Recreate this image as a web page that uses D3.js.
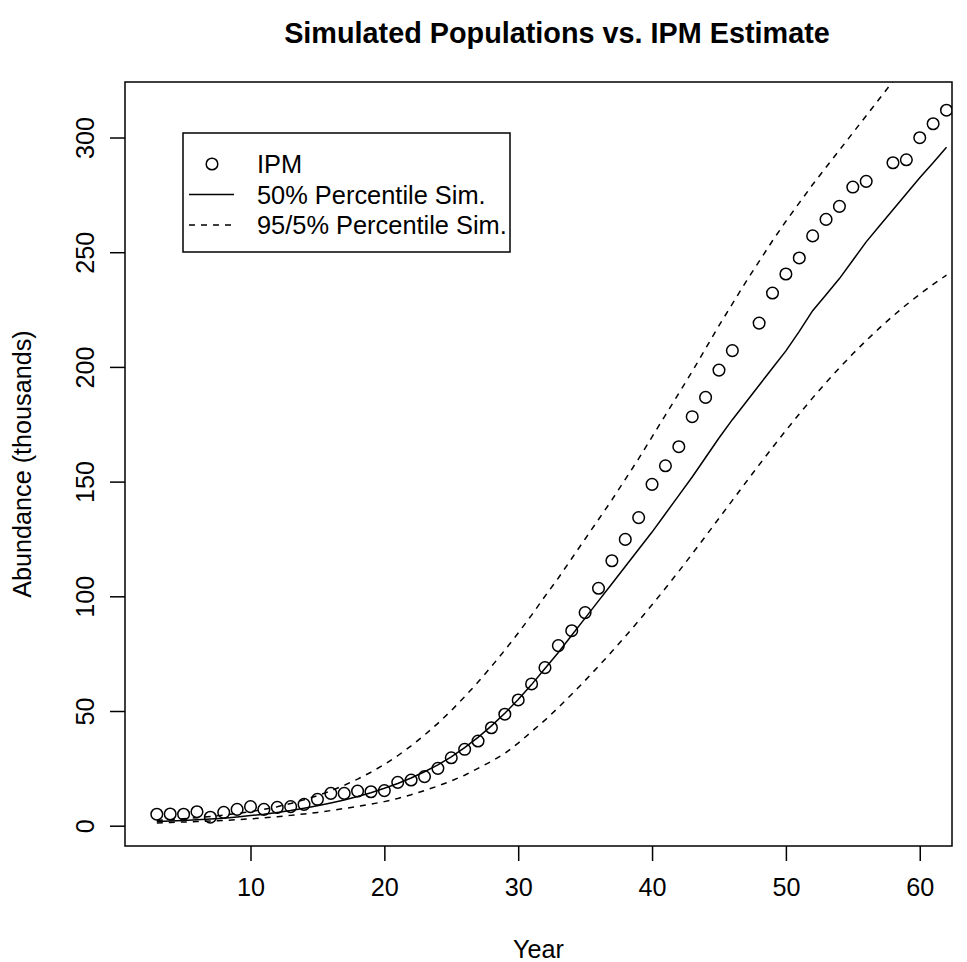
<!DOCTYPE html>
<html>
<head>
<meta charset="utf-8">
<script src="https://cdn.jsdelivr.net/npm/d3@7"></script>
<style>
  html, body { margin: 0; padding: 0; background: #fff; }
  svg { display: block; }
  text { font-family: "Liberation Sans", Arial, Helvetica, sans-serif; fill: #000; }
</style>
</head>
<body>
<svg id="chart" width="967" height="962"></svg>
<script>
// ---- data ----
const years = d3.range(3, 63); // 3..62

const ipmValues = [
  5.0, 5.1, 5.0, 6.1, 3.7, 5.8, 7.1, 8.3, 7.1, 8.0,          // 3-12
  8.3, 9.3, 11.5, 14.1, 14.1, 15.1, 14.8, 15.3, 18.9, 19.9,  // 13-22
  21.4, 25.0, 29.6, 33.3, 36.9, 42.7, 48.6, 54.8, 61.8, 68.9, // 23-32
  78.5, 85.0, 92.9, 103.5, 115.5, 124.8, 134.3, 148.8, 156.9, 165.2, // 33-42
  178.3, 186.7, 198.6, 207.1, null, 219.1, 232.2, 240.5, 247.5, 257.1, // 43-52
  264.3, 270.0, 278.4, 280.9, null, 289.0, 290.3, 299.9, 306.0, 311.9  // 53-62
];

const median = [
  1.8, 2.0, 2.3, 2.6, 2.9, 3.3, 3.8, 4.4, 5.0, 5.8,
  6.6, 7.6, 8.7, 9.9, 11.2, 12.7, 14.4, 16.3, 18.4, 20.8,
  23.5, 26.5, 30.0, 34.0, 38.5, 43.5, 49.0, 55.0, 61.5, 68.5,
  75.5, 83.0, 90.5, 98.0, 105.5, 113.0, 120.5, 128.0, 136.0, 144.0,
  152.0, 160.5, 169.0, 177.0, 184.5, 192.0, 199.5, 207.0, 215.5, 224.5,
  231.5, 238.5, 246.5, 254.5, 261.5, 268.5, 275.5, 282.5, 289.0, 295.8
];

const upper95 = [
  2.3, 2.6, 3.0, 3.5, 4.0, 4.6, 5.3, 6.1, 7.1, 8.3,
  9.7, 11.3, 13.1, 15.2, 17.6, 20.3, 23.3, 26.7, 30.5, 34.8,
  39.5, 44.6, 50.2, 56.2, 62.6, 69.4, 76.5, 84.0, 91.8, 100.0,
  108.0, 116.5, 125.0, 133.5, 142.0, 151.0, 160.0, 169.5, 179.0, 188.5,
  198.0, 208.0, 218.0, 227.5, 237.0, 246.0, 255.0, 263.5, 271.5, 279.5,
  287.0, 294.5, 302.0, 309.5, 317.0, 324.5, 332.0, 339.5, 347.0, 354.5
];

const lower5 = [
  1.2, 1.4, 1.6, 1.8, 2.0, 2.3, 2.6, 3.0, 3.4, 3.9,
  4.5, 5.1, 5.8, 6.6, 7.5, 8.4, 9.4, 10.5, 11.9, 13.5,
  15.3, 17.3, 19.5, 22.0, 25.0, 28.0, 31.5, 36.0, 41.0, 46.0,
  51.5, 57.3, 63.3, 69.5, 75.9, 82.5, 89.3, 96.3, 103.5, 110.9,
  118.5, 126.2, 134.0, 141.8, 149.6, 157.3, 164.9, 172.3, 179.5, 186.5,
  193.2, 199.6, 205.7, 211.5, 217.0, 222.2, 227.1, 231.7, 236.0, 240.0
];

const xTicks = [10, 20, 30, 40, 50, 60];
const yTicks = [0, 50, 100, 150, 200, 250, 300];

const titleText = "Simulated Populations vs. IPM Estimate";
const xLabel = "Year";
const yLabel = "Abundance (thousands)";
const legendLabels = ["IPM", "50% Percentile Sim.", "95/5% Percentile Sim."];

// ---- layout ----
const plot = { left: 125, right: 952, top: 82, bottom: 846 };
const svg = d3.select("#chart");

const x = d3.scaleLinear().domain([0.623, 62.41]).range([plot.left, plot.right]);
const y = d3.scaleLinear().domain([-8.85, 324.2]).range([plot.bottom, plot.top]);

const fontSize = 25.2;

svg.append("defs").append("clipPath").attr("id", "plotclip")
  .append("rect")
  .attr("x", plot.left).attr("y", plot.top)
  .attr("width", plot.right - plot.left).attr("height", plot.bottom - plot.top);

// Axes
const xAxis = d3.axisBottom(x).tickValues(xTicks).tickSize(15).tickSizeOuter(0).tickPadding(0);
const gx = svg.append("g").attr("transform", `translate(0,${plot.bottom})`).call(xAxis);
gx.select(".domain").remove();
gx.selectAll(".tick line").attr("stroke", "#000").attr("stroke-width", 1.5);
gx.selectAll(".tick text")
  .attr("y", 50).attr("dy", null)
  .style("font-size", fontSize + "px")
  .attr("fill", "#000");

const yAxis = d3.axisLeft(y).tickValues(yTicks).tickSize(15).tickSizeOuter(0);
const gy = svg.append("g").attr("transform", `translate(${plot.left},0)`).call(yAxis);
gy.select(".domain").remove();
gy.selectAll(".tick line").attr("stroke", "#000").attr("stroke-width", 1.5);
gy.selectAll(".tick text")
  .attr("x", null).attr("dy", null)
  .attr("transform", "translate(-31,0) rotate(-90)")
  .attr("text-anchor", "middle")
  .attr("y", 0)
  .style("font-size", fontSize + "px")
  .attr("fill", "#000");

// Lines
const g = svg.append("g").attr("clip-path", "url(#plotclip)");
const line = d3.line().x((d, i) => x(years[i])).y(d => y(d));

g.append("path").datum(median).attr("d", line)
  .attr("fill", "none").attr("stroke", "#000").attr("stroke-width", 1.5);
g.append("path").datum(upper95).attr("d", line)
  .attr("fill", "none").attr("stroke", "#000").attr("stroke-width", 1.5)
  .attr("stroke-dasharray", "6,6");
g.append("path").datum(lower5).attr("d", line)
  .attr("fill", "none").attr("stroke", "#000").attr("stroke-width", 1.5)
  .attr("stroke-dasharray", "6,6");

// Points
const pts = years.map((yr, i) => ({ yr, v: ipmValues[i] })).filter(d => d.v !== null);
g.selectAll("circle.ipm").data(pts).enter().append("circle")
  .attr("class", "ipm")
  .attr("cx", d => x(d.yr)).attr("cy", d => y(d.v)).attr("r", 5.8)
  .attr("fill", "none").attr("stroke", "#000").attr("stroke-width", 1.5);

// Box
svg.append("rect")
  .attr("x", plot.left).attr("y", plot.top)
  .attr("width", plot.right - plot.left).attr("height", plot.bottom - plot.top)
  .attr("fill", "none").attr("stroke", "#000").attr("stroke-width", 1.5);

// Title & labels
svg.append("text").attr("x", 557).attr("y", 43)
  .attr("text-anchor", "middle").style("font-size", "28.8px").style("font-weight", "bold")
  .text(titleText);
svg.append("text").attr("x", (plot.left + plot.right) / 2).attr("y", 958)
  .attr("text-anchor", "middle").style("font-size", fontSize + "px")
  .text(xLabel);
svg.append("text")
  .attr("transform", `translate(31,${(plot.top + plot.bottom) / 2}) rotate(-90)`)
  .attr("text-anchor", "middle").style("font-size", fontSize + "px")
  .text(yLabel);

// Legend
const lg = svg.append("g");
lg.append("rect").attr("x", 183).attr("y", 133).attr("width", 327).attr("height", 119)
  .attr("fill", "#fff").attr("stroke", "#000").attr("stroke-width", 1.5);
const rowsY = [164, 194.5, 225];
lg.append("circle").attr("cx", 212).attr("cy", rowsY[0]).attr("r", 5.8)
  .attr("fill", "none").attr("stroke", "#000").attr("stroke-width", 1.5);
lg.append("line").attr("x1", 189).attr("x2", 234).attr("y1", rowsY[1]).attr("y2", rowsY[1])
  .attr("stroke", "#000").attr("stroke-width", 1.5);
lg.append("line").attr("x1", 189).attr("x2", 234).attr("y1", rowsY[2]).attr("y2", rowsY[2])
  .attr("stroke", "#000").attr("stroke-width", 1.5).attr("stroke-dasharray", "6,6");
legendLabels.forEach((t, i) => {
  lg.append("text").attr("x", 257).attr("y", rowsY[i] + 9)
    .style("font-size", "25.4px").text(t);
});
</script>
</body>
</html>
